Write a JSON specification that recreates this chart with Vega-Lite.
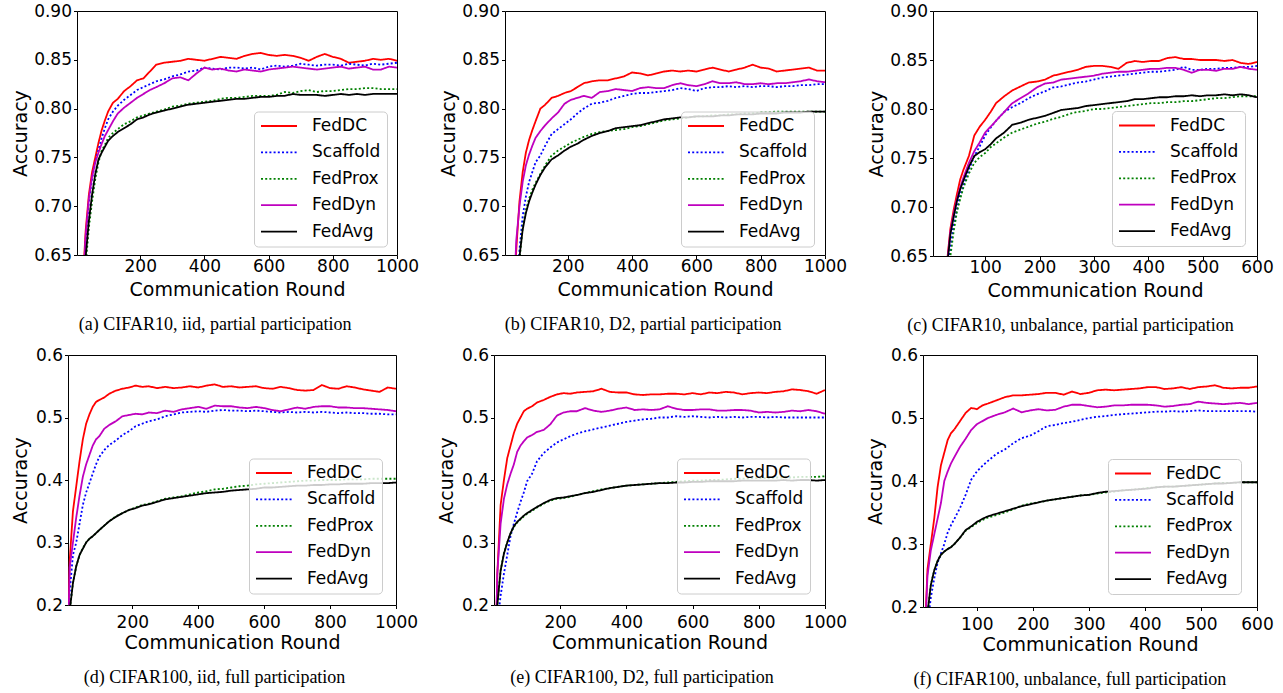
{
"$schema": "https://vega.github.io/schema/vega-lite/v6.json",
"background": "white",
"padding": {"left": 10, "top": 1, "right": 0, "bottom": 0},
"config": {
  "font": "DejaVu Sans",
  "view": {"stroke": "#000000", "strokeWidth": 1},
  "axis": {"grid": false, "domain": false, "tickColor": "#000000", "tickSize": 3.5, "tickWidth": 1, "labelFont": "DejaVu Sans", "labelFontSize": 17, "labelColor": "#000000", "labelFlush": false, "labelOverlap": false, "titleFont": "DejaVu Sans", "titleFontSize": 19, "titleFontWeight": "normal", "titleColor": "#000000", "titlePadding": 3},
  "axisX": {"labelPadding": 0, "format": "d"},
  "axisY": {"labelPadding": 2},
  "legend": {"title": null, "labelFont": "DejaVu Sans", "labelFontSize": 17, "labelColor": "#000000", "symbolType": "stroke", "symbolSize": 1296, "symbolStrokeWidth": 2, "clipHeight": 17, "rowPadding": 8.4, "labelOffset": 14, "padding": 6, "strokeColor": "#cccccc", "fillColor": "rgba(255,255,255,0.8)", "cornerRadius": 4},
  "title": {"font": "Liberation Serif", "fontSize": 18, "fontWeight": "normal", "color": "#000000", "orient": "bottom", "frame": "bounds", "anchor": "middle", "offset": 16},
  "line": {"strokeWidth": 1.8}
},
"data": {"values": [
{"p":"a","x":1,"FedDC":0.15,"Scaffold":0.15,"FedProx":0.15,"FedDyn":0.15,"FedAvg":0.15},
{"p":"a","x":10,"FedDC":0.5,"Scaffold":0.48,"FedProx":0.44,"FedDyn":0.49,"FedAvg":0.45},
{"p":"a","x":20,"FedDC":0.615,"Scaffold":0.6,"FedProx":0.57,"FedDyn":0.605,"FedAvg":0.58},
{"p":"a","x":30,"FedDC":0.675,"Scaffold":0.665,"FedProx":0.64,"FedDyn":0.67,"FedAvg":0.648},
{"p":"a","x":40,"FedDC":0.712,"Scaffold":0.705,"FedProx":0.678,"FedDyn":0.708,"FedAvg":0.685},
{"p":"a","x":50,"FedDC":0.735,"Scaffold":0.728,"FedProx":0.705,"FedDyn":0.73,"FedAvg":0.712},
{"p":"a","x":60,"FedDC":0.75,"Scaffold":0.745,"FedProx":0.728,"FedDyn":0.745,"FedAvg":0.733},
{"p":"a","x":70,"FedDC":0.765,"Scaffold":0.758,"FedProx":0.745,"FedDyn":0.755,"FedAvg":0.748},
{"p":"a","x":80,"FedDC":0.778,"Scaffold":0.77,"FedProx":0.757,"FedDyn":0.764,"FedAvg":0.755},
{"p":"a","x":90,"FedDC":0.788,"Scaffold":0.78,"FedProx":0.763,"FedDyn":0.772,"FedAvg":0.761},
{"p":"a","x":100,"FedDC":0.797,"Scaffold":0.789,"FedProx":0.77,"FedDyn":0.778,"FedAvg":0.767},
{"p":"a","x":115,"FedDC":0.806,"Scaffold":0.797,"FedProx":0.775,"FedDyn":0.787,"FedAvg":0.772},
{"p":"a","x":130,"FedDC":0.81,"Scaffold":0.803,"FedProx":0.779,"FedDyn":0.795,"FedAvg":0.776},
{"p":"a","x":150,"FedDC":0.818,"Scaffold":0.809,"FedProx":0.784,"FedDyn":0.801,"FedAvg":0.78},
{"p":"a","x":170,"FedDC":0.823,"Scaffold":0.814,"FedProx":0.787,"FedDyn":0.806,"FedAvg":0.784},
{"p":"a","x":190,"FedDC":0.829,"Scaffold":0.819,"FedProx":0.791,"FedDyn":0.811,"FedAvg":0.789},
{"p":"a","x":210,"FedDC":0.831,"Scaffold":0.822,"FedProx":0.793,"FedDyn":0.815,"FedAvg":0.791},
{"p":"a","x":230,"FedDC":0.838,"Scaffold":0.825,"FedProx":0.795,"FedDyn":0.819,"FedAvg":0.794},
{"p":"a","x":250,"FedDC":0.845,"Scaffold":0.828,"FedProx":0.797,"FedDyn":0.822,"FedAvg":0.796},
{"p":"a","x":275,"FedDC":0.847,"Scaffold":0.83,"FedProx":0.799,"FedDyn":0.826,"FedAvg":0.798},
{"p":"a","x":300,"FedDC":0.848,"Scaffold":0.833,"FedProx":0.802,"FedDyn":0.831,"FedAvg":0.8},
{"p":"a","x":325,"FedDC":0.849,"Scaffold":0.835,"FedProx":0.803,"FedDyn":0.832,"FedAvg":0.802},
{"p":"a","x":350,"FedDC":0.851,"Scaffold":0.838,"FedProx":0.805,"FedDyn":0.829,"FedAvg":0.804},
{"p":"a","x":375,"FedDC":0.85,"Scaffold":0.839,"FedProx":0.806,"FedDyn":0.836,"FedAvg":0.805},
{"p":"a","x":400,"FedDC":0.849,"Scaffold":0.842,"FedProx":0.807,"FedDyn":0.842,"FedAvg":0.806},
{"p":"a","x":425,"FedDC":0.851,"Scaffold":0.841,"FedProx":0.808,"FedDyn":0.84,"FedAvg":0.807},
{"p":"a","x":450,"FedDC":0.853,"Scaffold":0.84,"FedProx":0.81,"FedDyn":0.841,"FedAvg":0.808},
{"p":"a","x":475,"FedDC":0.852,"Scaffold":0.842,"FedProx":0.811,"FedDyn":0.839,"FedAvg":0.809},
{"p":"a","x":500,"FedDC":0.851,"Scaffold":0.842,"FedProx":0.811,"FedDyn":0.838,"FedAvg":0.81},
{"p":"a","x":525,"FedDC":0.854,"Scaffold":0.841,"FedProx":0.812,"FedDyn":0.84,"FedAvg":0.81},
{"p":"a","x":550,"FedDC":0.856,"Scaffold":0.842,"FedProx":0.813,"FedDyn":0.839,"FedAvg":0.811},
{"p":"a","x":575,"FedDC":0.857,"Scaffold":0.84,"FedProx":0.813,"FedDyn":0.838,"FedAvg":0.812},
{"p":"a","x":600,"FedDC":0.855,"Scaffold":0.843,"FedProx":0.813,"FedDyn":0.84,"FedAvg":0.812},
{"p":"a","x":625,"FedDC":0.854,"Scaffold":0.844,"FedProx":0.814,"FedDyn":0.841,"FedAvg":0.813},
{"p":"a","x":650,"FedDC":0.855,"Scaffold":0.843,"FedProx":0.817,"FedDyn":0.842,"FedAvg":0.813},
{"p":"a","x":675,"FedDC":0.854,"Scaffold":0.844,"FedProx":0.816,"FedDyn":0.843,"FedAvg":0.815},
{"p":"a","x":700,"FedDC":0.852,"Scaffold":0.846,"FedProx":0.818,"FedDyn":0.842,"FedAvg":0.814},
{"p":"a","x":725,"FedDC":0.849,"Scaffold":0.845,"FedProx":0.819,"FedDyn":0.841,"FedAvg":0.814},
{"p":"a","x":750,"FedDC":0.853,"Scaffold":0.844,"FedProx":0.817,"FedDyn":0.84,"FedAvg":0.814},
{"p":"a","x":775,"FedDC":0.856,"Scaffold":0.845,"FedProx":0.818,"FedDyn":0.841,"FedAvg":0.813},
{"p":"a","x":800,"FedDC":0.853,"Scaffold":0.845,"FedProx":0.818,"FedDyn":0.842,"FedAvg":0.814},
{"p":"a","x":825,"FedDC":0.851,"Scaffold":0.844,"FedProx":0.819,"FedDyn":0.843,"FedAvg":0.815},
{"p":"a","x":850,"FedDC":0.847,"Scaffold":0.846,"FedProx":0.82,"FedDyn":0.841,"FedAvg":0.814},
{"p":"a","x":875,"FedDC":0.848,"Scaffold":0.845,"FedProx":0.82,"FedDyn":0.842,"FedAvg":0.815},
{"p":"a","x":900,"FedDC":0.849,"Scaffold":0.844,"FedProx":0.821,"FedDyn":0.843,"FedAvg":0.814},
{"p":"a","x":925,"FedDC":0.851,"Scaffold":0.846,"FedProx":0.821,"FedDyn":0.84,"FedAvg":0.815},
{"p":"a","x":950,"FedDC":0.85,"Scaffold":0.845,"FedProx":0.82,"FedDyn":0.84,"FedAvg":0.815},
{"p":"a","x":975,"FedDC":0.851,"Scaffold":0.846,"FedProx":0.82,"FedDyn":0.843,"FedAvg":0.815},
{"p":"a","x":1000,"FedDC":0.849,"Scaffold":0.847,"FedProx":0.82,"FedDyn":0.842,"FedAvg":0.815},
{"p":"b","x":1,"FedDC":0.12,"Scaffold":0.12,"FedProx":0.12,"FedDyn":0.12,"FedAvg":0.12},
{"p":"b","x":10,"FedDC":0.38,"Scaffold":0.3,"FedProx":0.28,"FedDyn":0.38,"FedAvg":0.29},
{"p":"b","x":20,"FedDC":0.5,"Scaffold":0.42,"FedProx":0.4,"FedDyn":0.5,"FedAvg":0.41},
{"p":"b","x":30,"FedDC":0.58,"Scaffold":0.52,"FedProx":0.5,"FedDyn":0.585,"FedAvg":0.51},
{"p":"b","x":40,"FedDC":0.655,"Scaffold":0.6,"FedProx":0.59,"FedDyn":0.665,"FedAvg":0.595},
{"p":"b","x":50,"FedDC":0.705,"Scaffold":0.655,"FedProx":0.645,"FedDyn":0.7,"FedAvg":0.648},
{"p":"b","x":60,"FedDC":0.735,"Scaffold":0.69,"FedProx":0.678,"FedDyn":0.725,"FedAvg":0.676},
{"p":"b","x":70,"FedDC":0.755,"Scaffold":0.71,"FedProx":0.696,"FedDyn":0.742,"FedAvg":0.693},
{"p":"b","x":80,"FedDC":0.768,"Scaffold":0.725,"FedProx":0.708,"FedDyn":0.753,"FedAvg":0.705},
{"p":"b","x":90,"FedDC":0.778,"Scaffold":0.735,"FedProx":0.717,"FedDyn":0.762,"FedAvg":0.714},
{"p":"b","x":100,"FedDC":0.787,"Scaffold":0.745,"FedProx":0.724,"FedDyn":0.77,"FedAvg":0.722},
{"p":"b","x":115,"FedDC":0.8,"Scaffold":0.752,"FedProx":0.733,"FedDyn":0.777,"FedAvg":0.732},
{"p":"b","x":130,"FedDC":0.804,"Scaffold":0.762,"FedProx":0.742,"FedDyn":0.783,"FedAvg":0.74},
{"p":"b","x":150,"FedDC":0.811,"Scaffold":0.774,"FedProx":0.752,"FedDyn":0.79,"FedAvg":0.748},
{"p":"b","x":170,"FedDC":0.813,"Scaffold":0.779,"FedProx":0.757,"FedDyn":0.796,"FedAvg":0.752},
{"p":"b","x":190,"FedDC":0.816,"Scaffold":0.784,"FedProx":0.761,"FedDyn":0.805,"FedAvg":0.757},
{"p":"b","x":210,"FedDC":0.818,"Scaffold":0.789,"FedProx":0.765,"FedDyn":0.809,"FedAvg":0.761},
{"p":"b","x":230,"FedDC":0.822,"Scaffold":0.795,"FedProx":0.768,"FedDyn":0.811,"FedAvg":0.764},
{"p":"b","x":250,"FedDC":0.826,"Scaffold":0.8,"FedProx":0.771,"FedDyn":0.813,"FedAvg":0.768},
{"p":"b","x":275,"FedDC":0.828,"Scaffold":0.805,"FedProx":0.774,"FedDyn":0.811,"FedAvg":0.772},
{"p":"b","x":300,"FedDC":0.829,"Scaffold":0.806,"FedProx":0.776,"FedDyn":0.817,"FedAvg":0.775},
{"p":"b","x":325,"FedDC":0.829,"Scaffold":0.808,"FedProx":0.777,"FedDyn":0.818,"FedAvg":0.777},
{"p":"b","x":350,"FedDC":0.831,"Scaffold":0.811,"FedProx":0.778,"FedDyn":0.82,"FedAvg":0.78},
{"p":"b","x":375,"FedDC":0.833,"Scaffold":0.813,"FedProx":0.779,"FedDyn":0.819,"FedAvg":0.781},
{"p":"b","x":400,"FedDC":0.837,"Scaffold":0.815,"FedProx":0.781,"FedDyn":0.818,"FedAvg":0.782},
{"p":"b","x":425,"FedDC":0.836,"Scaffold":0.816,"FedProx":0.782,"FedDyn":0.821,"FedAvg":0.783},
{"p":"b","x":450,"FedDC":0.834,"Scaffold":0.816,"FedProx":0.784,"FedDyn":0.822,"FedAvg":0.785},
{"p":"b","x":475,"FedDC":0.836,"Scaffold":0.817,"FedProx":0.786,"FedDyn":0.821,"FedAvg":0.787},
{"p":"b","x":500,"FedDC":0.838,"Scaffold":0.818,"FedProx":0.788,"FedDyn":0.821,"FedAvg":0.789},
{"p":"b","x":525,"FedDC":0.839,"Scaffold":0.819,"FedProx":0.789,"FedDyn":0.824,"FedAvg":0.79},
{"p":"b","x":550,"FedDC":0.838,"Scaffold":0.821,"FedProx":0.79,"FedDyn":0.826,"FedAvg":0.791},
{"p":"b","x":575,"FedDC":0.839,"Scaffold":0.82,"FedProx":0.791,"FedDyn":0.824,"FedAvg":0.791},
{"p":"b","x":600,"FedDC":0.838,"Scaffold":0.818,"FedProx":0.792,"FedDyn":0.823,"FedAvg":0.792},
{"p":"b","x":625,"FedDC":0.84,"Scaffold":0.821,"FedProx":0.792,"FedDyn":0.825,"FedAvg":0.792},
{"p":"b","x":650,"FedDC":0.842,"Scaffold":0.822,"FedProx":0.793,"FedDyn":0.828,"FedAvg":0.792},
{"p":"b","x":675,"FedDC":0.84,"Scaffold":0.822,"FedProx":0.793,"FedDyn":0.826,"FedAvg":0.793},
{"p":"b","x":700,"FedDC":0.838,"Scaffold":0.823,"FedProx":0.794,"FedDyn":0.826,"FedAvg":0.793},
{"p":"b","x":725,"FedDC":0.84,"Scaffold":0.822,"FedProx":0.794,"FedDyn":0.827,"FedAvg":0.794},
{"p":"b","x":750,"FedDC":0.842,"Scaffold":0.823,"FedProx":0.795,"FedDyn":0.825,"FedAvg":0.794},
{"p":"b","x":775,"FedDC":0.845,"Scaffold":0.822,"FedProx":0.795,"FedDyn":0.825,"FedAvg":0.794},
{"p":"b","x":800,"FedDC":0.842,"Scaffold":0.823,"FedProx":0.796,"FedDyn":0.826,"FedAvg":0.795},
{"p":"b","x":825,"FedDC":0.841,"Scaffold":0.823,"FedProx":0.796,"FedDyn":0.825,"FedAvg":0.795},
{"p":"b","x":850,"FedDC":0.838,"Scaffold":0.822,"FedProx":0.797,"FedDyn":0.826,"FedAvg":0.795},
{"p":"b","x":875,"FedDC":0.839,"Scaffold":0.823,"FedProx":0.797,"FedDyn":0.826,"FedAvg":0.796},
{"p":"b","x":900,"FedDC":0.84,"Scaffold":0.823,"FedProx":0.797,"FedDyn":0.827,"FedAvg":0.796},
{"p":"b","x":925,"FedDC":0.841,"Scaffold":0.824,"FedProx":0.797,"FedDyn":0.828,"FedAvg":0.796},
{"p":"b","x":950,"FedDC":0.842,"Scaffold":0.824,"FedProx":0.797,"FedDyn":0.83,"FedAvg":0.797},
{"p":"b","x":975,"FedDC":0.839,"Scaffold":0.825,"FedProx":0.797,"FedDyn":0.828,"FedAvg":0.797},
{"p":"b","x":1000,"FedDC":0.839,"Scaffold":0.825,"FedProx":0.797,"FedDyn":0.827,"FedAvg":0.797},
{"p":"c","x":1,"FedDC":0.12,"Scaffold":0.12,"FedProx":0.12,"FedDyn":0.12,"FedAvg":0.12},
{"p":"c","x":6,"FedDC":0.3,"Scaffold":0.25,"FedProx":0.25,"FedDyn":0.3,"FedAvg":0.27},
{"p":"c","x":12,"FedDC":0.45,"Scaffold":0.4,"FedProx":0.4,"FedDyn":0.45,"FedAvg":0.43},
{"p":"c","x":18,"FedDC":0.54,"Scaffold":0.5,"FedProx":0.49,"FedDyn":0.54,"FedAvg":0.52},
{"p":"c","x":24,"FedDC":0.6,"Scaffold":0.57,"FedProx":0.56,"FedDyn":0.6,"FedAvg":0.59},
{"p":"c","x":30,"FedDC":0.645,"Scaffold":0.625,"FedProx":0.615,"FedDyn":0.643,"FedAvg":0.64},
{"p":"c","x":36,"FedDC":0.678,"Scaffold":0.66,"FedProx":0.65,"FedDyn":0.675,"FedAvg":0.672},
{"p":"c","x":42,"FedDC":0.697,"Scaffold":0.682,"FedProx":0.675,"FedDyn":0.693,"FedAvg":0.69},
{"p":"c","x":48,"FedDC":0.713,"Scaffold":0.698,"FedProx":0.695,"FedDyn":0.708,"FedAvg":0.706},
{"p":"c","x":54,"FedDC":0.728,"Scaffold":0.712,"FedProx":0.708,"FedDyn":0.72,"FedAvg":0.718},
{"p":"c","x":60,"FedDC":0.738,"Scaffold":0.722,"FedProx":0.72,"FedDyn":0.73,"FedAvg":0.727},
{"p":"c","x":70,"FedDC":0.752,"Scaffold":0.738,"FedProx":0.734,"FedDyn":0.745,"FedAvg":0.741},
{"p":"c","x":80,"FedDC":0.773,"Scaffold":0.752,"FedProx":0.745,"FedDyn":0.757,"FedAvg":0.752},
{"p":"c","x":90,"FedDC":0.782,"Scaffold":0.762,"FedProx":0.751,"FedDyn":0.766,"FedAvg":0.756},
{"p":"c","x":100,"FedDC":0.789,"Scaffold":0.773,"FedProx":0.755,"FedDyn":0.776,"FedAvg":0.759},
{"p":"c","x":110,"FedDC":0.797,"Scaffold":0.781,"FedProx":0.761,"FedDyn":0.782,"FedAvg":0.764},
{"p":"c","x":120,"FedDC":0.806,"Scaffold":0.788,"FedProx":0.765,"FedDyn":0.788,"FedAvg":0.77},
{"p":"c","x":135,"FedDC":0.813,"Scaffold":0.797,"FedProx":0.771,"FedDyn":0.797,"FedAvg":0.776},
{"p":"c","x":150,"FedDC":0.819,"Scaffold":0.802,"FedProx":0.776,"FedDyn":0.806,"FedAvg":0.784},
{"p":"c","x":165,"FedDC":0.823,"Scaffold":0.806,"FedProx":0.779,"FedDyn":0.811,"FedAvg":0.786},
{"p":"c","x":180,"FedDC":0.827,"Scaffold":0.811,"FedProx":0.782,"FedDyn":0.816,"FedAvg":0.789},
{"p":"c","x":195,"FedDC":0.828,"Scaffold":0.815,"FedProx":0.785,"FedDyn":0.822,"FedAvg":0.791},
{"p":"c","x":210,"FedDC":0.83,"Scaffold":0.818,"FedProx":0.787,"FedDyn":0.826,"FedAvg":0.793},
{"p":"c","x":225,"FedDC":0.834,"Scaffold":0.822,"FedProx":0.79,"FedDyn":0.827,"FedAvg":0.796},
{"p":"c","x":240,"FedDC":0.836,"Scaffold":0.823,"FedProx":0.792,"FedDyn":0.83,"FedAvg":0.799},
{"p":"c","x":255,"FedDC":0.838,"Scaffold":0.825,"FedProx":0.795,"FedDyn":0.831,"FedAvg":0.8},
{"p":"c","x":270,"FedDC":0.84,"Scaffold":0.827,"FedProx":0.797,"FedDyn":0.832,"FedAvg":0.801},
{"p":"c","x":285,"FedDC":0.843,"Scaffold":0.828,"FedProx":0.798,"FedDyn":0.833,"FedAvg":0.803},
{"p":"c","x":300,"FedDC":0.844,"Scaffold":0.83,"FedProx":0.8,"FedDyn":0.834,"FedAvg":0.804},
{"p":"c","x":315,"FedDC":0.844,"Scaffold":0.832,"FedProx":0.8,"FedDyn":0.836,"FedAvg":0.805},
{"p":"c","x":330,"FedDC":0.843,"Scaffold":0.833,"FedProx":0.801,"FedDyn":0.837,"FedAvg":0.806},
{"p":"c","x":345,"FedDC":0.841,"Scaffold":0.834,"FedProx":0.802,"FedDyn":0.838,"FedAvg":0.807},
{"p":"c","x":360,"FedDC":0.847,"Scaffold":0.835,"FedProx":0.803,"FedDyn":0.838,"FedAvg":0.808},
{"p":"c","x":375,"FedDC":0.849,"Scaffold":0.836,"FedProx":0.804,"FedDyn":0.839,"FedAvg":0.81},
{"p":"c","x":390,"FedDC":0.848,"Scaffold":0.837,"FedProx":0.805,"FedDyn":0.84,"FedAvg":0.81},
{"p":"c","x":405,"FedDC":0.849,"Scaffold":0.838,"FedProx":0.806,"FedDyn":0.841,"FedAvg":0.811},
{"p":"c","x":420,"FedDC":0.849,"Scaffold":0.838,"FedProx":0.806,"FedDyn":0.841,"FedAvg":0.812},
{"p":"c","x":435,"FedDC":0.852,"Scaffold":0.839,"FedProx":0.807,"FedDyn":0.842,"FedAvg":0.812},
{"p":"c","x":450,"FedDC":0.853,"Scaffold":0.84,"FedProx":0.807,"FedDyn":0.842,"FedAvg":0.813},
{"p":"c","x":465,"FedDC":0.851,"Scaffold":0.843,"FedProx":0.808,"FedDyn":0.84,"FedAvg":0.813},
{"p":"c","x":480,"FedDC":0.851,"Scaffold":0.84,"FedProx":0.808,"FedDyn":0.837,"FedAvg":0.814},
{"p":"c","x":495,"FedDC":0.85,"Scaffold":0.84,"FedProx":0.809,"FedDyn":0.84,"FedAvg":0.813},
{"p":"c","x":510,"FedDC":0.85,"Scaffold":0.841,"FedProx":0.81,"FedDyn":0.84,"FedAvg":0.814},
{"p":"c","x":525,"FedDC":0.85,"Scaffold":0.841,"FedProx":0.811,"FedDyn":0.839,"FedAvg":0.814},
{"p":"c","x":540,"FedDC":0.849,"Scaffold":0.842,"FedProx":0.811,"FedDyn":0.841,"FedAvg":0.815},
{"p":"c","x":555,"FedDC":0.85,"Scaffold":0.842,"FedProx":0.812,"FedDyn":0.841,"FedAvg":0.814},
{"p":"c","x":570,"FedDC":0.847,"Scaffold":0.843,"FedProx":0.813,"FedDyn":0.843,"FedAvg":0.815},
{"p":"c","x":585,"FedDC":0.846,"Scaffold":0.843,"FedProx":0.813,"FedDyn":0.841,"FedAvg":0.814},
{"p":"c","x":600,"FedDC":0.848,"Scaffold":0.844,"FedProx":0.813,"FedDyn":0.84,"FedAvg":0.812},
{"p":"d","x":1,"FedDC":0.02,"Scaffold":0.02,"FedProx":0.02,"FedDyn":0.02,"FedAvg":0.02},
{"p":"d","x":10,"FedDC":0.27,"Scaffold":0.22,"FedProx":0.19,"FedDyn":0.26,"FedAvg":0.19},
{"p":"d","x":20,"FedDC":0.35,"Scaffold":0.28,"FedProx":0.235,"FedDyn":0.3,"FedAvg":0.235},
{"p":"d","x":30,"FedDC":0.39,"Scaffold":0.3,"FedProx":0.262,"FedDyn":0.34,"FedAvg":0.262},
{"p":"d","x":40,"FedDC":0.43,"Scaffold":0.33,"FedProx":0.28,"FedDyn":0.375,"FedAvg":0.28},
{"p":"d","x":50,"FedDC":0.465,"Scaffold":0.36,"FedProx":0.291,"FedDyn":0.405,"FedAvg":0.29},
{"p":"d","x":60,"FedDC":0.49,"Scaffold":0.38,"FedProx":0.3,"FedDyn":0.425,"FedAvg":0.3},
{"p":"d","x":70,"FedDC":0.505,"Scaffold":0.395,"FedProx":0.306,"FedDyn":0.44,"FedAvg":0.306},
{"p":"d","x":80,"FedDC":0.517,"Scaffold":0.41,"FedProx":0.31,"FedDyn":0.455,"FedAvg":0.31},
{"p":"d","x":90,"FedDC":0.525,"Scaffold":0.425,"FedProx":0.315,"FedDyn":0.465,"FedAvg":0.315},
{"p":"d","x":100,"FedDC":0.528,"Scaffold":0.437,"FedProx":0.32,"FedDyn":0.47,"FedAvg":0.32},
{"p":"d","x":115,"FedDC":0.532,"Scaffold":0.448,"FedProx":0.327,"FedDyn":0.482,"FedAvg":0.327},
{"p":"d","x":130,"FedDC":0.538,"Scaffold":0.456,"FedProx":0.334,"FedDyn":0.488,"FedAvg":0.334},
{"p":"d","x":150,"FedDC":0.543,"Scaffold":0.463,"FedProx":0.342,"FedDyn":0.494,"FedAvg":0.341},
{"p":"d","x":170,"FedDC":0.546,"Scaffold":0.472,"FedProx":0.347,"FedDyn":0.502,"FedAvg":0.347},
{"p":"d","x":190,"FedDC":0.548,"Scaffold":0.478,"FedProx":0.352,"FedDyn":0.504,"FedAvg":0.352},
{"p":"d","x":210,"FedDC":0.551,"Scaffold":0.486,"FedProx":0.356,"FedDyn":0.506,"FedAvg":0.355},
{"p":"d","x":230,"FedDC":0.549,"Scaffold":0.49,"FedProx":0.36,"FedDyn":0.505,"FedAvg":0.359},
{"p":"d","x":250,"FedDC":0.55,"Scaffold":0.494,"FedProx":0.362,"FedDyn":0.508,"FedAvg":0.361},
{"p":"d","x":275,"FedDC":0.547,"Scaffold":0.497,"FedProx":0.366,"FedDyn":0.507,"FedAvg":0.365},
{"p":"d","x":300,"FedDC":0.549,"Scaffold":0.502,"FedProx":0.37,"FedDyn":0.511,"FedAvg":0.369},
{"p":"d","x":325,"FedDC":0.547,"Scaffold":0.505,"FedProx":0.372,"FedDyn":0.509,"FedAvg":0.371},
{"p":"d","x":350,"FedDC":0.548,"Scaffold":0.508,"FedProx":0.374,"FedDyn":0.513,"FedAvg":0.373},
{"p":"d","x":375,"FedDC":0.55,"Scaffold":0.509,"FedProx":0.377,"FedDyn":0.515,"FedAvg":0.375},
{"p":"d","x":400,"FedDC":0.548,"Scaffold":0.51,"FedProx":0.38,"FedDyn":0.517,"FedAvg":0.377},
{"p":"d","x":425,"FedDC":0.551,"Scaffold":0.509,"FedProx":0.382,"FedDyn":0.514,"FedAvg":0.379},
{"p":"d","x":450,"FedDC":0.553,"Scaffold":0.511,"FedProx":0.385,"FedDyn":0.519,"FedAvg":0.38},
{"p":"d","x":475,"FedDC":0.549,"Scaffold":0.512,"FedProx":0.386,"FedDyn":0.518,"FedAvg":0.381},
{"p":"d","x":500,"FedDC":0.55,"Scaffold":0.511,"FedProx":0.388,"FedDyn":0.518,"FedAvg":0.383},
{"p":"d","x":525,"FedDC":0.548,"Scaffold":0.511,"FedProx":0.39,"FedDyn":0.516,"FedAvg":0.384},
{"p":"d","x":550,"FedDC":0.549,"Scaffold":0.51,"FedProx":0.391,"FedDyn":0.515,"FedAvg":0.385},
{"p":"d","x":575,"FedDC":0.55,"Scaffold":0.511,"FedProx":0.393,"FedDyn":0.517,"FedAvg":0.386},
{"p":"d","x":600,"FedDC":0.547,"Scaffold":0.51,"FedProx":0.394,"FedDyn":0.515,"FedAvg":0.388},
{"p":"d","x":625,"FedDC":0.546,"Scaffold":0.509,"FedProx":0.395,"FedDyn":0.512,"FedAvg":0.388},
{"p":"d","x":650,"FedDC":0.549,"Scaffold":0.508,"FedProx":0.396,"FedDyn":0.51,"FedAvg":0.389},
{"p":"d","x":675,"FedDC":0.547,"Scaffold":0.509,"FedProx":0.397,"FedDyn":0.513,"FedAvg":0.39},
{"p":"d","x":700,"FedDC":0.544,"Scaffold":0.508,"FedProx":0.398,"FedDyn":0.516,"FedAvg":0.391},
{"p":"d","x":725,"FedDC":0.543,"Scaffold":0.509,"FedProx":0.399,"FedDyn":0.514,"FedAvg":0.391},
{"p":"d","x":750,"FedDC":0.544,"Scaffold":0.508,"FedProx":0.399,"FedDyn":0.517,"FedAvg":0.392},
{"p":"d","x":775,"FedDC":0.552,"Scaffold":0.509,"FedProx":0.4,"FedDyn":0.518,"FedAvg":0.392},
{"p":"d","x":800,"FedDC":0.547,"Scaffold":0.508,"FedProx":0.4,"FedDyn":0.518,"FedAvg":0.393},
{"p":"d","x":825,"FedDC":0.546,"Scaffold":0.507,"FedProx":0.4,"FedDyn":0.516,"FedAvg":0.393},
{"p":"d","x":850,"FedDC":0.55,"Scaffold":0.508,"FedProx":0.401,"FedDyn":0.516,"FedAvg":0.394},
{"p":"d","x":875,"FedDC":0.548,"Scaffold":0.507,"FedProx":0.401,"FedDyn":0.515,"FedAvg":0.394},
{"p":"d","x":900,"FedDC":0.545,"Scaffold":0.507,"FedProx":0.401,"FedDyn":0.515,"FedAvg":0.394},
{"p":"d","x":925,"FedDC":0.543,"Scaffold":0.506,"FedProx":0.402,"FedDyn":0.514,"FedAvg":0.395},
{"p":"d","x":950,"FedDC":0.541,"Scaffold":0.506,"FedProx":0.402,"FedDyn":0.513,"FedAvg":0.395},
{"p":"d","x":975,"FedDC":0.548,"Scaffold":0.505,"FedProx":0.402,"FedDyn":0.512,"FedAvg":0.395},
{"p":"d","x":1000,"FedDC":0.546,"Scaffold":0.505,"FedProx":0.402,"FedDyn":0.51,"FedAvg":0.396},
{"p":"e","x":1,"FedDC":0.02,"Scaffold":0.02,"FedProx":0.02,"FedDyn":0.02,"FedAvg":0.02},
{"p":"e","x":10,"FedDC":0.25,"Scaffold":0.17,"FedProx":0.2,"FedDyn":0.25,"FedAvg":0.2},
{"p":"e","x":20,"FedDC":0.36,"Scaffold":0.215,"FedProx":0.255,"FedDyn":0.33,"FedAvg":0.255},
{"p":"e","x":30,"FedDC":0.4,"Scaffold":0.25,"FedProx":0.283,"FedDyn":0.37,"FedAvg":0.282},
{"p":"e","x":40,"FedDC":0.435,"Scaffold":0.28,"FedProx":0.3,"FedDyn":0.393,"FedAvg":0.3},
{"p":"e","x":50,"FedDC":0.455,"Scaffold":0.31,"FedProx":0.314,"FedDyn":0.41,"FedAvg":0.315},
{"p":"e","x":60,"FedDC":0.475,"Scaffold":0.33,"FedProx":0.325,"FedDyn":0.425,"FedAvg":0.326},
{"p":"e","x":70,"FedDC":0.49,"Scaffold":0.348,"FedProx":0.332,"FedDyn":0.445,"FedAvg":0.333},
{"p":"e","x":80,"FedDC":0.5,"Scaffold":0.365,"FedProx":0.337,"FedDyn":0.455,"FedAvg":0.338},
{"p":"e","x":90,"FedDC":0.51,"Scaffold":0.38,"FedProx":0.342,"FedDyn":0.462,"FedAvg":0.343},
{"p":"e","x":100,"FedDC":0.514,"Scaffold":0.398,"FedProx":0.346,"FedDyn":0.468,"FedAvg":0.347},
{"p":"e","x":115,"FedDC":0.518,"Scaffold":0.41,"FedProx":0.351,"FedDyn":0.472,"FedAvg":0.352},
{"p":"e","x":130,"FedDC":0.524,"Scaffold":0.43,"FedProx":0.356,"FedDyn":0.477,"FedAvg":0.357},
{"p":"e","x":150,"FedDC":0.528,"Scaffold":0.443,"FedProx":0.362,"FedDyn":0.48,"FedAvg":0.363},
{"p":"e","x":170,"FedDC":0.533,"Scaffold":0.452,"FedProx":0.367,"FedDyn":0.489,"FedAvg":0.368},
{"p":"e","x":190,"FedDC":0.537,"Scaffold":0.46,"FedProx":0.37,"FedDyn":0.503,"FedAvg":0.371},
{"p":"e","x":210,"FedDC":0.539,"Scaffold":0.465,"FedProx":0.371,"FedDyn":0.508,"FedAvg":0.372},
{"p":"e","x":230,"FedDC":0.538,"Scaffold":0.47,"FedProx":0.373,"FedDyn":0.51,"FedAvg":0.374},
{"p":"e","x":250,"FedDC":0.54,"Scaffold":0.474,"FedProx":0.376,"FedDyn":0.51,"FedAvg":0.376},
{"p":"e","x":275,"FedDC":0.541,"Scaffold":0.478,"FedProx":0.379,"FedDyn":0.515,"FedAvg":0.379},
{"p":"e","x":300,"FedDC":0.542,"Scaffold":0.481,"FedProx":0.382,"FedDyn":0.511,"FedAvg":0.381},
{"p":"e","x":325,"FedDC":0.546,"Scaffold":0.484,"FedProx":0.385,"FedDyn":0.509,"FedAvg":0.384},
{"p":"e","x":350,"FedDC":0.541,"Scaffold":0.487,"FedProx":0.387,"FedDyn":0.511,"FedAvg":0.387},
{"p":"e","x":375,"FedDC":0.54,"Scaffold":0.49,"FedProx":0.389,"FedDyn":0.514,"FedAvg":0.389},
{"p":"e","x":400,"FedDC":0.54,"Scaffold":0.493,"FedProx":0.391,"FedDyn":0.516,"FedAvg":0.391},
{"p":"e","x":425,"FedDC":0.537,"Scaffold":0.495,"FedProx":0.392,"FedDyn":0.512,"FedAvg":0.392},
{"p":"e","x":450,"FedDC":0.536,"Scaffold":0.497,"FedProx":0.393,"FedDyn":0.513,"FedAvg":0.393},
{"p":"e","x":475,"FedDC":0.537,"Scaffold":0.498,"FedProx":0.394,"FedDyn":0.512,"FedAvg":0.394},
{"p":"e","x":500,"FedDC":0.537,"Scaffold":0.5,"FedProx":0.395,"FedDyn":0.513,"FedAvg":0.395},
{"p":"e","x":525,"FedDC":0.538,"Scaffold":0.5,"FedProx":0.396,"FedDyn":0.518,"FedAvg":0.395},
{"p":"e","x":550,"FedDC":0.538,"Scaffold":0.502,"FedProx":0.397,"FedDyn":0.514,"FedAvg":0.396},
{"p":"e","x":575,"FedDC":0.537,"Scaffold":0.501,"FedProx":0.398,"FedDyn":0.512,"FedAvg":0.396},
{"p":"e","x":600,"FedDC":0.539,"Scaffold":0.502,"FedProx":0.399,"FedDyn":0.512,"FedAvg":0.397},
{"p":"e","x":625,"FedDC":0.537,"Scaffold":0.501,"FedProx":0.399,"FedDyn":0.513,"FedAvg":0.397},
{"p":"e","x":650,"FedDC":0.54,"Scaffold":0.5,"FedProx":0.4,"FedDyn":0.513,"FedAvg":0.398},
{"p":"e","x":675,"FedDC":0.539,"Scaffold":0.501,"FedProx":0.4,"FedDyn":0.511,"FedAvg":0.398},
{"p":"e","x":700,"FedDC":0.541,"Scaffold":0.5,"FedProx":0.401,"FedDyn":0.511,"FedAvg":0.398},
{"p":"e","x":725,"FedDC":0.54,"Scaffold":0.501,"FedProx":0.402,"FedDyn":0.512,"FedAvg":0.398},
{"p":"e","x":750,"FedDC":0.537,"Scaffold":0.5,"FedProx":0.402,"FedDyn":0.512,"FedAvg":0.399},
{"p":"e","x":775,"FedDC":0.539,"Scaffold":0.501,"FedProx":0.403,"FedDyn":0.511,"FedAvg":0.399},
{"p":"e","x":800,"FedDC":0.54,"Scaffold":0.501,"FedProx":0.403,"FedDyn":0.508,"FedAvg":0.399},
{"p":"e","x":825,"FedDC":0.539,"Scaffold":0.5,"FedProx":0.403,"FedDyn":0.509,"FedAvg":0.399},
{"p":"e","x":850,"FedDC":0.541,"Scaffold":0.501,"FedProx":0.404,"FedDyn":0.508,"FedAvg":0.399},
{"p":"e","x":875,"FedDC":0.542,"Scaffold":0.5,"FedProx":0.404,"FedDyn":0.509,"FedAvg":0.4},
{"p":"e","x":900,"FedDC":0.545,"Scaffold":0.5,"FedProx":0.404,"FedDyn":0.511,"FedAvg":0.399},
{"p":"e","x":925,"FedDC":0.544,"Scaffold":0.5,"FedProx":0.405,"FedDyn":0.51,"FedAvg":0.4},
{"p":"e","x":950,"FedDC":0.542,"Scaffold":0.5,"FedProx":0.405,"FedDyn":0.512,"FedAvg":0.4},
{"p":"e","x":975,"FedDC":0.538,"Scaffold":0.5,"FedProx":0.405,"FedDyn":0.51,"FedAvg":0.399},
{"p":"e","x":1000,"FedDC":0.544,"Scaffold":0.5,"FedProx":0.406,"FedDyn":0.506,"FedAvg":0.4},
{"p":"f","x":1,"FedDC":0.02,"Scaffold":0.02,"FedProx":0.02,"FedDyn":0.02,"FedAvg":0.02},
{"p":"f","x":6,"FedDC":0.13,"Scaffold":0.08,"FedProx":0.1,"FedDyn":0.12,"FedAvg":0.1},
{"p":"f","x":12,"FedDC":0.26,"Scaffold":0.17,"FedProx":0.19,"FedDyn":0.25,"FedAvg":0.19},
{"p":"f","x":18,"FedDC":0.3,"Scaffold":0.215,"FedProx":0.235,"FedDyn":0.29,"FedAvg":0.235},
{"p":"f","x":24,"FedDC":0.34,"Scaffold":0.245,"FedProx":0.258,"FedDyn":0.315,"FedAvg":0.258},
{"p":"f","x":30,"FedDC":0.39,"Scaffold":0.27,"FedProx":0.273,"FedDyn":0.34,"FedAvg":0.273},
{"p":"f","x":36,"FedDC":0.425,"Scaffold":0.285,"FedProx":0.283,"FedDyn":0.365,"FedAvg":0.283},
{"p":"f","x":42,"FedDC":0.445,"Scaffold":0.3,"FedProx":0.288,"FedDyn":0.4,"FedAvg":0.288},
{"p":"f","x":48,"FedDC":0.465,"Scaffold":0.318,"FedProx":0.292,"FedDyn":0.415,"FedAvg":0.292},
{"p":"f","x":54,"FedDC":0.476,"Scaffold":0.33,"FedProx":0.295,"FedDyn":0.428,"FedAvg":0.295},
{"p":"f","x":60,"FedDC":0.482,"Scaffold":0.34,"FedProx":0.3,"FedDyn":0.438,"FedAvg":0.3},
{"p":"f","x":70,"FedDC":0.495,"Scaffold":0.357,"FedProx":0.31,"FedDyn":0.454,"FedAvg":0.31},
{"p":"f","x":80,"FedDC":0.508,"Scaffold":0.378,"FedProx":0.321,"FedDyn":0.467,"FedAvg":0.322},
{"p":"f","x":90,"FedDC":0.516,"Scaffold":0.402,"FedProx":0.327,"FedDyn":0.481,"FedAvg":0.328},
{"p":"f","x":100,"FedDC":0.514,"Scaffold":0.415,"FedProx":0.333,"FedDyn":0.49,"FedAvg":0.335},
{"p":"f","x":110,"FedDC":0.52,"Scaffold":0.424,"FedProx":0.338,"FedDyn":0.495,"FedAvg":0.34},
{"p":"f","x":120,"FedDC":0.523,"Scaffold":0.432,"FedProx":0.342,"FedDyn":0.5,"FedAvg":0.344},
{"p":"f","x":135,"FedDC":0.528,"Scaffold":0.443,"FedProx":0.346,"FedDyn":0.505,"FedAvg":0.348},
{"p":"f","x":150,"FedDC":0.533,"Scaffold":0.45,"FedProx":0.35,"FedDyn":0.509,"FedAvg":0.352},
{"p":"f","x":165,"FedDC":0.536,"Scaffold":0.46,"FedProx":0.355,"FedDyn":0.515,"FedAvg":0.356},
{"p":"f","x":180,"FedDC":0.536,"Scaffold":0.468,"FedProx":0.361,"FedDyn":0.509,"FedAvg":0.36},
{"p":"f","x":195,"FedDC":0.537,"Scaffold":0.472,"FedProx":0.364,"FedDyn":0.512,"FedAvg":0.363},
{"p":"f","x":210,"FedDC":0.538,"Scaffold":0.479,"FedProx":0.366,"FedDyn":0.514,"FedAvg":0.366},
{"p":"f","x":225,"FedDC":0.54,"Scaffold":0.487,"FedProx":0.369,"FedDyn":0.512,"FedAvg":0.369},
{"p":"f","x":240,"FedDC":0.54,"Scaffold":0.489,"FedProx":0.371,"FedDyn":0.513,"FedAvg":0.371},
{"p":"f","x":255,"FedDC":0.537,"Scaffold":0.492,"FedProx":0.373,"FedDyn":0.518,"FedAvg":0.373},
{"p":"f","x":270,"FedDC":0.542,"Scaffold":0.494,"FedProx":0.375,"FedDyn":0.521,"FedAvg":0.375},
{"p":"f","x":285,"FedDC":0.538,"Scaffold":0.497,"FedProx":0.377,"FedDyn":0.521,"FedAvg":0.377},
{"p":"f","x":300,"FedDC":0.54,"Scaffold":0.5,"FedProx":0.378,"FedDyn":0.519,"FedAvg":0.378},
{"p":"f","x":315,"FedDC":0.544,"Scaffold":0.502,"FedProx":0.38,"FedDyn":0.517,"FedAvg":0.381},
{"p":"f","x":330,"FedDC":0.545,"Scaffold":0.503,"FedProx":0.382,"FedDyn":0.518,"FedAvg":0.383},
{"p":"f","x":345,"FedDC":0.544,"Scaffold":0.505,"FedProx":0.383,"FedDyn":0.52,"FedAvg":0.384},
{"p":"f","x":360,"FedDC":0.545,"Scaffold":0.506,"FedProx":0.385,"FedDyn":0.52,"FedAvg":0.385},
{"p":"f","x":375,"FedDC":0.546,"Scaffold":0.507,"FedProx":0.386,"FedDyn":0.521,"FedAvg":0.386},
{"p":"f","x":390,"FedDC":0.547,"Scaffold":0.508,"FedProx":0.387,"FedDyn":0.521,"FedAvg":0.387},
{"p":"f","x":405,"FedDC":0.549,"Scaffold":0.509,"FedProx":0.389,"FedDyn":0.521,"FedAvg":0.388},
{"p":"f","x":420,"FedDC":0.549,"Scaffold":0.51,"FedProx":0.39,"FedDyn":0.52,"FedAvg":0.39},
{"p":"f","x":435,"FedDC":0.546,"Scaffold":0.51,"FedProx":0.391,"FedDyn":0.518,"FedAvg":0.391},
{"p":"f","x":450,"FedDC":0.547,"Scaffold":0.511,"FedProx":0.391,"FedDyn":0.519,"FedAvg":0.391},
{"p":"f","x":465,"FedDC":0.549,"Scaffold":0.51,"FedProx":0.392,"FedDyn":0.521,"FedAvg":0.392},
{"p":"f","x":480,"FedDC":0.546,"Scaffold":0.511,"FedProx":0.393,"FedDyn":0.522,"FedAvg":0.393},
{"p":"f","x":495,"FedDC":0.549,"Scaffold":0.512,"FedProx":0.394,"FedDyn":0.526,"FedAvg":0.394},
{"p":"f","x":510,"FedDC":0.55,"Scaffold":0.511,"FedProx":0.395,"FedDyn":0.524,"FedAvg":0.395},
{"p":"f","x":525,"FedDC":0.552,"Scaffold":0.511,"FedProx":0.396,"FedDyn":0.523,"FedAvg":0.396},
{"p":"f","x":540,"FedDC":0.548,"Scaffold":0.511,"FedProx":0.397,"FedDyn":0.522,"FedAvg":0.396},
{"p":"f","x":555,"FedDC":0.547,"Scaffold":0.511,"FedProx":0.397,"FedDyn":0.523,"FedAvg":0.397},
{"p":"f","x":570,"FedDC":0.548,"Scaffold":0.511,"FedProx":0.398,"FedDyn":0.524,"FedAvg":0.398},
{"p":"f","x":585,"FedDC":0.548,"Scaffold":0.511,"FedProx":0.398,"FedDyn":0.522,"FedAvg":0.398},
{"p":"f","x":600,"FedDC":0.55,"Scaffold":0.51,"FedProx":0.398,"FedDyn":0.524,"FedAvg":0.398}
]},
"transform": [{"fold": ["FedDC", "Scaffold", "FedProx", "FedDyn", "FedAvg"], "as": ["method", "acc"]}],
"spacing": 10,
"vconcat": [
 {"hconcat": [
  {"width": 8.7, "height": 10, "data": {"values": []}, "mark": "point", "encoding": {}, "view": {"stroke": null}},
  {"hconcat": [
   {"width": 320, "height": 244,
    "transform": [{"filter": "datum.p == 'a'"}],
    "title": {"text": "(a) CIFAR10, iid, partial participation"},
    "mark": {"type": "line", "clip": true},
    "encoding": {
     "x": {"field": "x", "type": "quantitative", "scale": {"domain": [3, 1000], "nice": false, "zero": false}, "axis": {"values": [200, 400, 600, 800, 1000], "title": "Communication Round", "titlePadding": 6}},
     "y": {"field": "acc", "type": "quantitative", "scale": {"domain": [0.65, 0.9], "nice": false, "zero": false}, "axis": {"values": [0.65, 0.7, 0.75, 0.8, 0.85, 0.9], "format": ".2f", "title": "Accuracy"}},
     "color": {"field": "method", "type": "nominal", "scale": {"domain": ["FedDC", "Scaffold", "FedProx", "FedDyn", "FedAvg"], "range": ["#ff0000", "#0000ff", "#008000", "#bf00bf", "#000000"]}, "legend": {"orient": "none", "legendX": 177, "legendY": 100.5}},
     "strokeDash": {"field": "method", "type": "nominal", "scale": {"domain": ["FedDC", "Scaffold", "FedProx", "FedDyn", "FedAvg"], "range": [[1, 0], [2, 2.2], [2, 2.2], [1, 0], [1, 0]]}, "legend": {"orient": "none", "legendX": 177, "legendY": 100.5}}
    }},
   {"width": 320, "height": 244,
    "transform": [{"filter": "datum.p == 'b'"}],
    "title": {"text": "(b) CIFAR10, D2, partial participation"},
    "mark": {"type": "line", "clip": true},
    "encoding": {
     "x": {"field": "x", "type": "quantitative", "scale": {"domain": [5, 1000], "nice": false, "zero": false}, "axis": {"values": [200, 400, 600, 800, 1000], "title": "Communication Round", "titlePadding": 6}},
     "y": {"field": "acc", "type": "quantitative", "scale": {"domain": [0.65, 0.9], "nice": false, "zero": false}, "axis": {"values": [0.65, 0.7, 0.75, 0.8, 0.85, 0.9], "format": ".2f", "title": "Accuracy"}},
     "color": {"field": "method", "type": "nominal", "scale": {"domain": ["FedDC", "Scaffold", "FedProx", "FedDyn", "FedAvg"], "range": ["#ff0000", "#0000ff", "#008000", "#bf00bf", "#000000"]}, "legend": {"orient": "none", "legendX": 176, "legendY": 100.5}},
     "strokeDash": {"field": "method", "type": "nominal", "scale": {"domain": ["FedDC", "Scaffold", "FedProx", "FedDyn", "FedAvg"], "range": [[1, 0], [2, 2.2], [2, 2.2], [1, 0], [1, 0]]}, "legend": {"orient": "none", "legendX": 176, "legendY": 100.5}}
    }},
   {"width": 324, "height": 245,
    "transform": [{"filter": "datum.p == 'c'"}],
    "title": {"text": "(c) CIFAR10, unbalance, partial participation"},
    "mark": {"type": "line", "clip": true},
    "encoding": {
     "x": {"field": "x", "type": "quantitative", "scale": {"domain": [4, 600], "nice": false, "zero": false}, "axis": {"values": [100, 200, 300, 400, 500, 600], "title": "Communication Round", "titlePadding": 6}},
     "y": {"field": "acc", "type": "quantitative", "scale": {"domain": [0.65, 0.9], "nice": false, "zero": false}, "axis": {"values": [0.65, 0.7, 0.75, 0.8, 0.85, 0.9], "format": ".2f", "title": "Accuracy"}},
     "color": {"field": "method", "type": "nominal", "scale": {"domain": ["FedDC", "Scaffold", "FedProx", "FedDyn", "FedAvg"], "range": ["#ff0000", "#0000ff", "#008000", "#bf00bf", "#000000"]}, "legend": {"orient": "none", "legendX": 179, "legendY": 100}},
     "strokeDash": {"field": "method", "type": "nominal", "scale": {"domain": ["FedDC", "Scaffold", "FedProx", "FedDyn", "FedAvg"], "range": [[1, 0], [2, 2.2], [2, 2.2], [1, 0], [1, 0]]}, "legend": {"orient": "none", "legendX": 179, "legendY": 100}}
    }}
  ], "spacing": 108, "bounds": "flush", "resolve": {"scale": {"color": "independent", "strokeDash": "independent"}, "legend": {"color": "independent", "strokeDash": "independent"}}}
 ], "spacing": 0, "bounds": "flush", "resolve": {"scale": {"color": "independent", "strokeDash": "independent"}, "legend": {"color": "independent", "strokeDash": "independent"}}},
 {"hconcat": [
  {"width": 328, "height": 250,
   "transform": [{"filter": "datum.p == 'd'"}],
   "title": {"text": "(d) CIFAR100, iid, full participation"},
   "mark": {"type": "line", "clip": true},
   "encoding": {
    "x": {"field": "x", "type": "quantitative", "scale": {"domain": [5, 1000], "nice": false, "zero": false}, "axis": {"values": [200, 400, 600, 800, 1000], "title": "Communication Round", "labelPadding": 6}},
    "y": {"field": "acc", "type": "quantitative", "scale": {"domain": [0.2, 0.6], "nice": false, "zero": false}, "axis": {"values": [0.2, 0.3, 0.4, 0.5, 0.6], "format": ".1f", "title": "Accuracy", "titlePadding": 5}},
    "color": {"field": "method", "type": "nominal", "scale": {"domain": ["FedDC", "Scaffold", "FedProx", "FedDyn", "FedAvg"], "range": ["#ff0000", "#0000ff", "#008000", "#bf00bf", "#000000"]}, "legend": {"orient": "none", "legendX": 181, "legendY": 103.5}},
    "strokeDash": {"field": "method", "type": "nominal", "scale": {"domain": ["FedDC", "Scaffold", "FedProx", "FedDyn", "FedAvg"], "range": [[1, 0], [2, 2.2], [2, 2.2], [1, 0], [1, 0]]}, "legend": {"orient": "none", "legendX": 181, "legendY": 103.5}}
   }},
  {"width": 331, "height": 250,
   "transform": [{"filter": "datum.p == 'e'"}],
   "title": {"text": "(e) CIFAR100, D2, full participation"},
   "mark": {"type": "line", "clip": true},
   "encoding": {
    "x": {"field": "x", "type": "quantitative", "scale": {"domain": [0, 1000], "nice": false, "zero": false}, "axis": {"values": [200, 400, 600, 800, 1000], "title": "Communication Round", "labelPadding": 6}},
    "y": {"field": "acc", "type": "quantitative", "scale": {"domain": [0.2, 0.6], "nice": false, "zero": false}, "axis": {"values": [0.2, 0.3, 0.4, 0.5, 0.6], "format": ".1f", "title": "Accuracy", "titlePadding": 5}},
    "color": {"field": "method", "type": "nominal", "scale": {"domain": ["FedDC", "Scaffold", "FedProx", "FedDyn", "FedAvg"], "range": ["#ff0000", "#0000ff", "#008000", "#bf00bf", "#000000"]}, "legend": {"orient": "none", "legendX": 183, "legendY": 103.5}},
    "strokeDash": {"field": "method", "type": "nominal", "scale": {"domain": ["FedDC", "Scaffold", "FedProx", "FedDyn", "FedAvg"], "range": [[1, 0], [2, 2.2], [2, 2.2], [1, 0], [1, 0]]}, "legend": {"orient": "none", "legendX": 183, "legendY": 103.5}}
   }},
  {"width": 334, "height": 252,
   "transform": [{"filter": "datum.p == 'f'"}],
   "title": {"text": "(f) CIFAR100, unbalance, full participation"},
   "mark": {"type": "line", "clip": true},
   "encoding": {
    "x": {"field": "x", "type": "quantitative", "scale": {"domain": [4, 600], "nice": false, "zero": false}, "axis": {"values": [100, 200, 300, 400, 500, 600], "title": "Communication Round", "labelPadding": 6}},
    "y": {"field": "acc", "type": "quantitative", "scale": {"domain": [0.2, 0.6], "nice": false, "zero": false}, "axis": {"values": [0.2, 0.3, 0.4, 0.5, 0.6], "format": ".1f", "title": "Accuracy", "titlePadding": 5}},
    "color": {"field": "method", "type": "nominal", "scale": {"domain": ["FedDC", "Scaffold", "FedProx", "FedDyn", "FedAvg"], "range": ["#ff0000", "#0000ff", "#008000", "#bf00bf", "#000000"]}, "legend": {"orient": "none", "legendX": 185, "legendY": 104}},
    "strokeDash": {"field": "method", "type": "nominal", "scale": {"domain": ["FedDC", "Scaffold", "FedProx", "FedDyn", "FedAvg"], "range": [[1, 0], [2, 2.2], [2, 2.2], [1, 0], [1, 0]]}, "legend": {"orient": "none", "legendX": 185, "legendY": 104}}
   }}
 ], "spacing": 98, "bounds": "flush", "resolve": {"scale": {"color": "independent", "strokeDash": "independent"}, "legend": {"color": "independent", "strokeDash": "independent"}}}
],
"resolve": {"scale": {"color": "independent", "strokeDash": "independent"}, "legend": {"color": "independent", "strokeDash": "independent"}}
}
